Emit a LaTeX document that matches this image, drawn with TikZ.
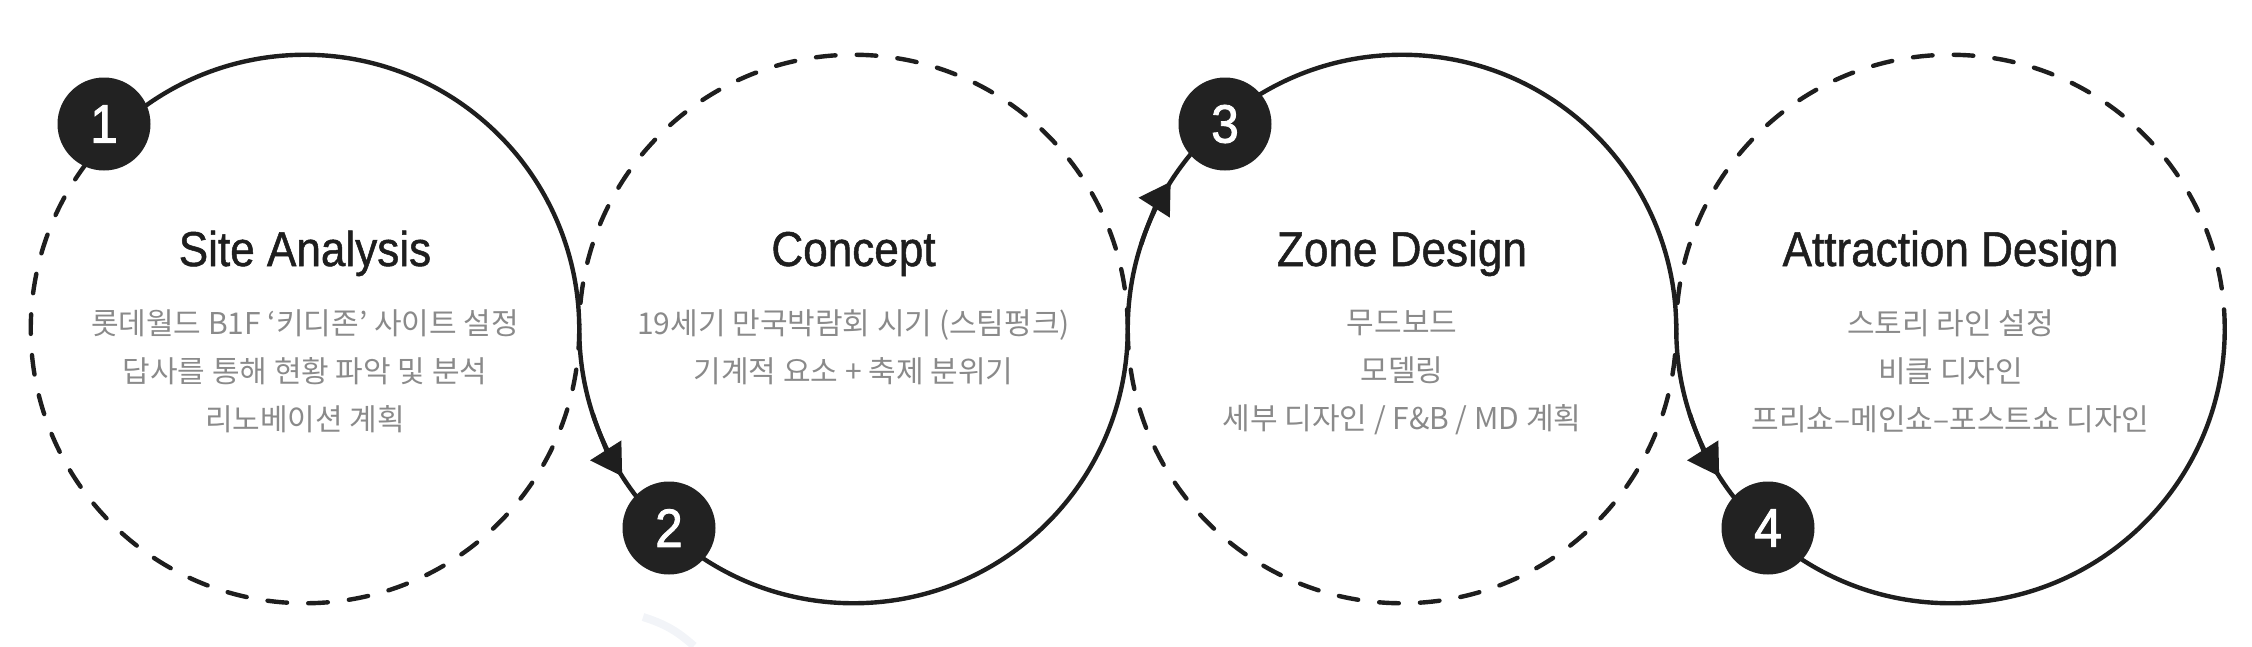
\documentclass[tikz,border=0pt]{standalone}
\usepackage{fontspec}
\setmainfont{Liberation Sans}
\newfontfamily\titlefont[FakeStretch=0.9,FakeBold=1]{Liberation Sans}
\newfontfamily\badgefont[FakeStretch=0.92,FakeBold=1.6]{Liberation Sans}
\newfontfamily\krfont{Noto Sans CJK KR}
\usetikzlibrary{arrows.meta}
\definecolor{ink}{HTML}{1E1E1E}
\definecolor{badgefill}{HTML}{222222}
\definecolor{subgray}{HTML}{8A8A8A}
\definecolor{ghost}{HTML}{F2F4F8}
\begin{document}
\begin{tikzpicture}[x=0.25pt,y=0.25pt,
  ring/.style={draw=ink,line width=1.1pt},
  ringdash/.style={ring,line cap=round,dash pattern=on 4.9pt off 5.3pt},
  badge/.style={circle,fill=badgefill,minimum size=23.25pt,inner sep=0pt,text=white,
    font=\badgefont\fontsize{13.5pt}{14pt}\selectfont},
  steptitle/.style={anchor=base,text=ink,inner sep=0pt,
    font=\titlefont\fontsize{12.25pt}{14pt}\selectfont},
  subtext/.style={anchor=north,align=center,text=subgray,inner sep=0pt,
    font=\krfont\fontsize{7.5pt}{12pt}\selectfont},
  flowtip/.style={ring,-{Triangle[length=7.7pt,width=9pt]}}]
\useasboundingbox (0,0) rectangle (2252,646);
\def\R{68.56pt}
\coordinate (c1) at (305,317);
\coordinate (c2) at (853.5,317);
\coordinate (c3) at (1402,317);
\coordinate (c4) at (1950.5,317);

% faint background trace
\draw[ghost,line width=2pt] (643,29) to[bend left=12] (694,0);

% circle 1
\draw[ring] (c1) ++(135:\R) arc[start angle=135,end angle=0,radius=\R];
\draw[ringdash] (c1) ++(0:\R) arc[start angle=0,end angle=-225,radius=\R];
% circle 2
\draw[ring] (c2) ++(180:\R) arc[start angle=180,end angle=360,radius=\R];
\draw[ringdash] (c2) ++(0:\R) arc[start angle=0,end angle=180,radius=\R];
% circle 3
\draw[ring] (c3) ++(180:\R) arc[start angle=180,end angle=0,radius=\R];
\draw[ringdash] (c3) ++(180:\R) arc[start angle=180,end angle=360,radius=\R];
% circle 4
\draw[ring] (c4) ++(180:\R) arc[start angle=180,end angle=360,radius=\R];
\draw[ringdash] (c4) ++(0:\R) arc[start angle=0,end angle=180,radius=\R];

% arrows
\draw[flowtip] (c2) ++(198:\R) arc[start angle=198,end angle=212.5,radius=\R];
\draw[flowtip] (c3) ++(162:\R) arc[start angle=162,end angle=147.5,radius=\R];
\draw[flowtip] (c4) ++(198:\R) arc[start angle=198,end angle=212.5,radius=\R];

% badges
\node[badge] (b1) at (104,522) {1};
\node[badge] (b2) at (669,118) {2};
\node[badge] (b3) at (1225,522) {3};
\node[badge] (b4) at (1768,118) {4};

% titles
\node[steptitle] (t1) at (305,380) {Site Analysis};
\node[steptitle] (t2) at (853.5,380) {Concept};
\node[steptitle] (t3) at (1402,380) {Zone Design};
\node[steptitle] (t4) at (1950.5,380) {Attraction Design};

% descriptions
\node[subtext] (d1) at (305,337) {롯데월드 B1F ‘키디존’ 사이트 설정\\답사를 통해 현황 파악 및 분석\\리노베이션 계획};
\node[subtext] (d2) at (853.5,337) {19세기 만국박람회 시기 (스팀펑크)\\기계적 요소 + 축제 분위기};
\node[subtext] (d3) at (1402,337) {무드보드\\모델링\\세부 디자인 / F\&B / MD 계획};
\node[subtext] (d4) at (1950.5,337) {스토리 라인 설정\\비클 디자인\\프리쇼–메인쇼–포스트쇼 디자인};
\end{tikzpicture}
\end{document}
